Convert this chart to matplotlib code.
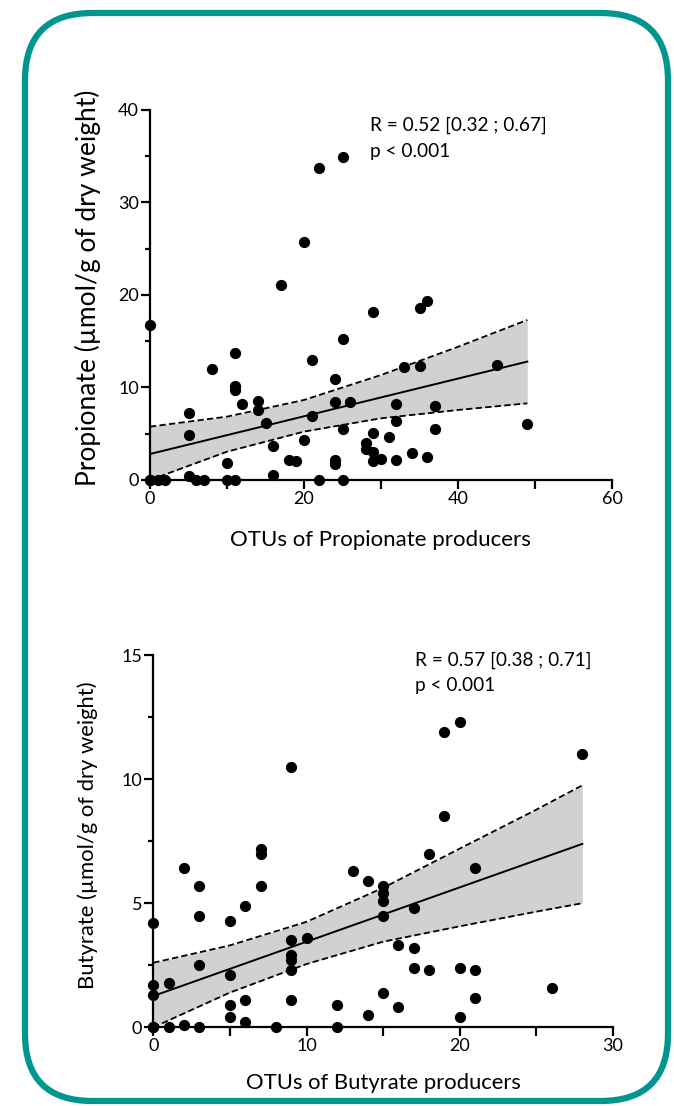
import numpy as np
import matplotlib
matplotlib.use("Agg")
import matplotlib.pyplot as plt
from matplotlib.patches import FancyBboxPatch

plt.rcParams['font.family'] = ['Lato', 'DejaVu Sans']

# Propionate panel
prop_x = [0, 0, 0, 1, 2, 5, 5, 5, 6, 7, 8, 10, 10, 11, 11, 11, 11, 12, 14, 14,
          15, 16, 16, 17, 18, 19, 20, 20, 21, 21, 22, 22, 24, 24, 24, 24, 25, 25, 25, 25,
          26, 28, 28, 29, 29, 29, 29, 30, 31, 32, 32, 32, 33, 34, 35, 35, 36, 36, 37, 37,
          45, 49]
prop_y = [16.8, 0, 0, 0, 0, 7.2, 4.9, 0.4, 0, 0, 12.0, 1.8, 0, 0, 13.7, 10.2, 9.7, 8.2, 8.5, 7.6,
          6.2, 3.7, 0.5, 21.1, 2.2, 2.1, 25.7, 4.3, 6.9, 13.0, 33.7, 0, 10.9, 8.4, 2.2, 1.7, 34.9, 15.2, 5.5, 0,
          8.4, 4.0, 3.4, 18.2, 5.1, 3.0, 2.1, 2.3, 4.6, 8.2, 6.4, 2.2, 12.2, 2.9, 18.6, 12.3, 19.4, 2.5, 8.0, 5.5,
          12.4, 6.1]
# regression line and 95% band
prop_fit_x = [0, 49]
prop_fit_y = [2.81, 12.8]
prop_band_x = [0, 10, 20, 30, 40, 49]
prop_band_hi = [5.77, 6.85, 8.65, 11.35, 14.4, 17.3]
prop_band_lo = [0.0, 3.06, 5.23, 6.67, 7.57, 8.29]

# Butyrate panel
but_x = [0, 0, 0, 0, 0, 1, 1, 2, 2, 3, 3, 3, 3, 5, 5, 5, 5, 6, 6, 6,
         7, 7, 7, 8, 9, 9, 9, 9, 9, 9, 10, 12, 12, 13, 14, 14, 15, 15, 15, 15,
         15, 16, 16, 17, 17, 17, 18, 18, 19, 19, 20, 20, 20, 21, 21, 21, 26, 28]
but_y = [4.2, 1.7, 1.3, 0, 0, 1.8, 0, 6.4, 0.1, 5.7, 4.5, 2.5, 0, 4.3, 2.1, 0.9, 0.4, 4.9, 1.1, 0.2,
         7.2, 7.0, 5.7, 0, 10.5, 3.5, 2.9, 2.7, 2.3, 1.1, 3.6, 0.9, 0, 6.3, 5.9, 0.5, 5.7, 5.4, 5.1, 4.5,
         1.4, 3.3, 0.8, 4.8, 3.2, 2.4, 7.0, 2.3, 11.9, 8.5, 12.3, 2.4, 0.4, 6.4, 2.3, 1.2, 1.6, 11.0]
but_fit_x = [0, 28]
but_fit_y = [1.26, 7.39]
but_band_x = [0, 5, 10, 15, 20, 25, 28]
but_band_hi = [2.6, 3.3, 4.25, 5.62, 7.2, 8.77, 9.75]
but_band_lo = [0.0, 1.4, 2.55, 3.45, 4.07, 4.66, 5.0]

W, H = 674, 1106
fig = plt.figure(figsize=(W / 100, H / 100), dpi=100)

# rounded teal frame
frame = FancyBboxPatch((25 / W, 1 - 1101 / H), 643 / W, 1088 / H,
                       boxstyle="round,pad=0,rounding_size=0.1",
                       transform=fig.transFigure, fill=False,
                       edgecolor='#00958f', linewidth=4.5,
                       mutation_aspect=W / H)
fig.patches.append(frame)


def draw_fit(ax, fx, fy, bx, lo, hi):
    ax.fill_between(bx, lo, hi, color='#d1d1d4', lw=0, zorder=1)
    ax.plot(fx, fy, color='black', lw=1.4, zorder=2)
    ax.plot(bx, lo, color='black', lw=1.3, ls=(0, (3.5, 1.8)), zorder=2)
    ax.plot(bx, hi, color='black', lw=1.3, ls=(0, (3.5, 1.8)), zorder=2)


def style(ax):
    for sp in ['top', 'right']:
        ax.spines[sp].set_visible(False)
    for sp in ['left', 'bottom']:
        ax.spines[sp].set_linewidth(1.6)
    ax.tick_params(which='both', direction='out', width=1.6, labelsize=13, pad=1.5)
    ax.tick_params(which='major', length=6.5)
    ax.tick_params(axis='x', which='minor', length=6.5)
    ax.tick_params(axis='y', which='minor', length=3.6)


# top panel
ax1 = fig.add_axes([150 / W, 1 - 480 / H, 462 / W, 370 / H])
draw_fit(ax1, prop_fit_x, prop_fit_y, prop_band_x, prop_band_lo, prop_band_hi)
ax1.scatter(prop_x, prop_y, s=50, color='black', zorder=3, clip_on=False)
ax1.set_xlim(0, 60)
ax1.set_ylim(0, 40)
ax1.set_xticks([0, 20, 40, 60])
ax1.set_xticks([10, 30, 50], minor=True)
ax1.set_yticks([0, 10, 20, 30, 40])
ax1.set_yticks([5, 15, 25, 35], minor=True)
style(ax1)
ax1.set_xlabel('OTUs of Propionate producers', fontsize=16)
ax1.xaxis.set_label_coords(0.498, -0.135)
ax1.set_ylabel('Propionate (µmol/g of dry weight)', fontsize=19, va='center')
ax1.yaxis.set_label_coords(-0.134, 0.519)
fig.text(370 / W, 1 - 125 / H, 'R = 0.52 [0.32 ; 0.67]', fontsize=13.7, va='center')
fig.text(370 / W, 1 - 152 / H, 'p < 0.001', fontsize=13.7, va='center')

# bottom panel
ax2 = fig.add_axes([153.3 / W, 1 - 1027.3 / H, 459.7 / W, 372.3 / H])
draw_fit(ax2, but_fit_x, but_fit_y, but_band_x, but_band_lo, but_band_hi)
ax2.scatter(but_x, but_y, s=50, color='black', zorder=3, clip_on=False)
ax2.set_xlim(0, 30)
ax2.set_ylim(0, 15)
ax2.set_xticks([0, 10, 20, 30])
ax2.set_xticks([5, 15, 25], minor=True)
ax2.set_yticks([0, 5, 10, 15])
ax2.set_yticks([2.5, 7.5, 12.5], minor=True)
style(ax2)
ax2.set_xlabel('OTUs of Butyrate producers', fontsize=15.8)
ax2.xaxis.set_label_coords(0.5, -0.122)
ax2.set_ylabel('Butyrate (µmol/g of dry weight)', fontsize=15.8, va='center')
ax2.yaxis.set_label_coords(-0.142, 0.516)
fig.text(415 / W, 1 - 660 / H, 'R = 0.57 [0.38 ; 0.71]', fontsize=13.7, va='center')
fig.text(415 / W, 1 - 686 / H, 'p < 0.001', fontsize=13.7, va='center')

fig.savefig('out.png', dpi=100)
